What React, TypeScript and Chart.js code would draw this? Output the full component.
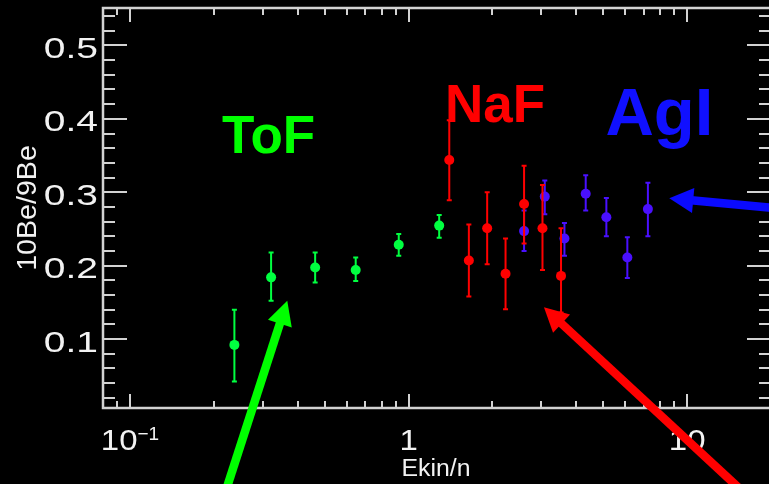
import React, { useEffect, useRef } from "react";
import { Chart, registerables } from "chart.js";

Chart.register(...registerables);

// ---- data ----
const tofEnergy = [0.237, 0.321, 0.462, 0.646, 0.922, 1.288];
const tofRatio = [0.092, 0.184, 0.1975, 0.194, 0.2285, 0.2545];
const tofLow = [0.042, 0.152, 0.177, 0.179, 0.2135, 0.238];
const tofHigh = [0.14, 0.218, 0.218, 0.211, 0.243, 0.269];

const nafEnergy = [1.4, 1.646, 1.915, 2.229, 2.598, 3.025, 3.526];
const nafRatio = [0.344, 0.207, 0.251, 0.189, 0.284, 0.251, 0.186];
const nafLow = [0.289, 0.158, 0.202, 0.1405, 0.23, 0.194, 0.136];
const nafHigh = [0.398, 0.256, 0.3, 0.237, 0.336, 0.31, 0.251];

const agiEnergy = [2.598, 3.083, 3.627, 4.324, 5.129, 6.1, 7.23];
const agiRatio = [0.247, 0.294, 0.237, 0.298, 0.266, 0.211, 0.277];
const agiLow = [0.22, 0.27, 0.2135, 0.275, 0.24, 0.183, 0.24];
const agiHigh = [0.275, 0.316, 0.258, 0.323, 0.292, 0.2385, 0.313];

const yTickValues = [0.1, 0.2, 0.3, 0.4, 0.5];
const yTickLabels = ["0.1", "0.2", "0.3", "0.4", "0.5"];
const xTickValues = [0.1, 1, 10];
const xTickLabels = [["10", "\u22121"], ["1", ""], ["10", ""]];

const xMin = 0.08, xMax = 20, yMin = 0.006, yMax = 0.551;

const xTitle = "Ekin/n";
const yTitle = "10Be/9Be";

// annotations: [text, x value, y value (baseline), color, font size]
const labelTexts = ["ToF", "NaF", "AgI"];
const labelX = [0.2139, 1.351, 5.09];
const labelY = [0.353, 0.395, 0.378];
const labelColors = ["#00ff00", "#ff0000", "#1010ff"];
const labelSizes = [53, 53, 67];

// arrows: tail -> tip in data coordinates
const arrowTailX = [0.2154, 17.08, 23.39];
const arrowTailY = [-0.1194, -0.1194, 0.2766];
const arrowTipX = [0.3669, 3.062, 8.627];
const arrowTipY = [0.1522, 0.1432, 0.2917];
const arrowColors = ["#00ff00", "#ff0000", "#0a0aff"];

const seriesColors = ["#00ff40", "#ff0000", "#4a10ff"];
const errLows = [tofLow, nafLow, agiLow];
const errHighs = [tofHigh, nafHigh, agiHigh];

const FONT = "'Liberation Sans', Arial, Helvetica, sans-serif";
const AXIS = "#d2d2d2";

function stretchText(ctx: CanvasRenderingContext2D, text: string, x: number, y: number, align: CanvasTextAlign, sx: number) {
  ctx.save();
  ctx.translate(x, y);
  ctx.scale(sx, 1);
  ctx.textAlign = align;
  ctx.textBaseline = "alphabetic";
  ctx.fillText(text, 0, 0);
  ctx.restore();
}

const idlPlugin = {
  id: "idlStyle",
  beforeDraw(chart: any) {
    const ctx = chart.ctx;
    ctx.save();
    ctx.fillStyle = "#000";
    ctx.fillRect(0, 0, chart.width, chart.height);
    ctx.restore();
  },
  beforeDatasetDraw(chart: any, args: any) {
    const i = args.index;
    const ctx = chart.ctx;
    const xs = chart.scales.x, ys = chart.scales.y;
    const ds = chart.data.datasets[i];
    const lows = errLows[i], highs = errHighs[i];
    ctx.save();
    ctx.strokeStyle = seriesColors[i];
    ctx.lineWidth = 2;
    ds.data.forEach((p: any, j: number) => {
      const px = xs.getPixelForValue(p.x);
      const y1 = ys.getPixelForValue(lows[j]);
      const y2 = ys.getPixelForValue(highs[j]);
      ctx.beginPath();
      ctx.moveTo(px, y1);
      ctx.lineTo(px, y2);
      ctx.moveTo(px - 2.5, y1);
      ctx.lineTo(px + 2.5, y1);
      ctx.moveTo(px - 2.5, y2);
      ctx.lineTo(px + 2.5, y2);
      ctx.stroke();
    });
    ctx.restore();
  },
  afterDraw(chart: any) {
    const ctx = chart.ctx;
    const xs = chart.scales.x, ys = chart.scales.y;
    const { left, right, top, bottom } = chart.chartArea;
    ctx.save();
    // box
    ctx.strokeStyle = AXIS;
    ctx.lineWidth = 2.5;
    ctx.strokeRect(left, top, right - left, bottom - top);
    ctx.lineWidth = 2;
    // x ticks
    ctx.beginPath();
    for (let e = -2; e <= 2; e++) {
      for (let m = 1; m <= 9; m++) {
        const v = m * Math.pow(10, e);
        if (v < xMin * 0.999 || v > xMax * 1.001) continue;
        const px = Math.round(xs.getPixelForValue(v));
        const len = m === 1 ? 14 : 7;
        ctx.moveTo(px, bottom);
        ctx.lineTo(px, bottom - len);
        ctx.moveTo(px, top);
        ctx.lineTo(px, top + len);
      }
    }
    // y ticks
    for (let k = Math.ceil(yMin / 0.02); k <= Math.floor(yMax / 0.02); k++) {
      const v = k * 0.02;
      const py = Math.round(ys.getPixelForValue(v));
      const len = k % 5 === 0 ? 24 : 12;
      ctx.moveTo(left, py);
      ctx.lineTo(left + len, py);
      ctx.moveTo(right, py);
      ctx.lineTo(right - len, py);
    }
    ctx.stroke();

    // tick labels
    ctx.fillStyle = "#f2f2f2";
    ctx.font = `30px ${FONT}`;
    yTickValues.forEach((v, i) => {
      const py = ys.getPixelForValue(v);
      stretchText(ctx, yTickLabels[i], 98, py + 12.5, "right", 1.3);
    });
    xTickValues.forEach((v, i) => {
      const px = xs.getPixelForValue(v);
      const [main, sup] = xTickLabels[i];
      ctx.font = `30px ${FONT}`;
      const w1 = ctx.measureText(main).width * 1.1;
      ctx.font = `19px ${FONT}`;
      const w2 = sup ? ctx.measureText(sup).width : 0;
      const start = px - (w1 + w2) / 2;
      ctx.font = `30px ${FONT}`;
      stretchText(ctx, main, start, 450, "left", 1.1);
      if (sup) {
        ctx.font = `19px ${FONT}`;
        stretchText(ctx, sup, start + w1, 440, "left", 1.0);
      }
    });

    // axis titles
    ctx.font = `23px ${FONT}`;
    stretchText(ctx, xTitle, (left + right) / 2 - 1, 476, "center", 1.08);
    ctx.save();
    ctx.translate(36, (top + bottom) / 2);
    ctx.rotate(-Math.PI / 2);
    ctx.font = `27px ${FONT}`;
    stretchText(ctx, yTitle, 0, 0, "center", 1.06);
    ctx.restore();

    // labels
    labelTexts.forEach((t, i) => {
      ctx.fillStyle = labelColors[i];
      ctx.font = `bold ${labelSizes[i]}px ${FONT}`;
      ctx.textAlign = "left";
      ctx.textBaseline = "alphabetic";
      ctx.fillText(t, xs.getPixelForValue(labelX[i]), ys.getPixelForValue(labelY[i]));
    });

    // arrows
    arrowColors.forEach((c, i) => {
      const x0 = xs.getPixelForValue(arrowTailX[i]);
      const y0 = ys.getPixelForValue(arrowTailY[i]);
      const x1 = xs.getPixelForValue(arrowTipX[i]);
      const y1 = ys.getPixelForValue(arrowTipY[i]);
      const dx = x1 - x0, dy = y1 - y0;
      const L = Math.hypot(dx, dy);
      const ux = dx / L, uy = dy / L;
      const headLen = 24, headHalf = 12.5;
      const bx = x1 - ux * headLen, by = y1 - uy * headLen;
      ctx.strokeStyle = c;
      ctx.fillStyle = c;
      ctx.lineWidth = 8.5;
      ctx.lineCap = "butt";
      ctx.beginPath();
      ctx.moveTo(x0, y0);
      ctx.lineTo(bx + ux * 2, by + uy * 2);
      ctx.stroke();
      ctx.beginPath();
      ctx.moveTo(x1, y1);
      ctx.lineTo(bx - uy * headHalf, by + ux * headHalf);
      ctx.lineTo(bx + uy * headHalf, by - ux * headHalf);
      ctx.closePath();
      ctx.fill();
    });
    ctx.restore();
  },
};

export default function App() {
  const ref = useRef<HTMLCanvasElement | null>(null);
  useEffect(() => {
    if (!ref.current) return;
    const mk = (xs: number[], ys: number[]) => xs.map((x, i) => ({ x, y: ys[i] }));
    const chart = new Chart(ref.current, {
      type: "scatter",
      data: {
        datasets: [
          { label: "ToF", data: mk(tofEnergy, tofRatio), backgroundColor: seriesColors[0], pointRadius: 5, borderWidth: 0, order: 0 },
          { label: "NaF", data: mk(nafEnergy, nafRatio), backgroundColor: seriesColors[1], pointRadius: 5, borderWidth: 0, order: 1 },
          { label: "AgI", data: mk(agiEnergy, agiRatio), backgroundColor: seriesColors[2], pointRadius: 5, borderWidth: 0, order: 2 },
        ],
      },
      options: {
        animation: false,
        responsive: false,
        events: [],
        layout: { padding: { left: 103, top: 8, right: 29, bottom: 76 } },
        plugins: { legend: { display: false }, tooltip: { enabled: false } },
        scales: {
          x: { type: "logarithmic", min: xMin, max: xMax, display: false },
          y: { type: "linear", min: yMin, max: yMax, display: false },
        },
      },
      plugins: [idlPlugin],
    });
    return () => chart.destroy();
  }, []);
  return (
    <div style={{ position: "fixed", left: 0, top: 0, width: 769, height: 484, overflow: "hidden", background: "#000" }}>
      <canvas ref={ref} width={800} height={484} style={{ display: "block", width: 800, height: 484 }} />
    </div>
  );
}
